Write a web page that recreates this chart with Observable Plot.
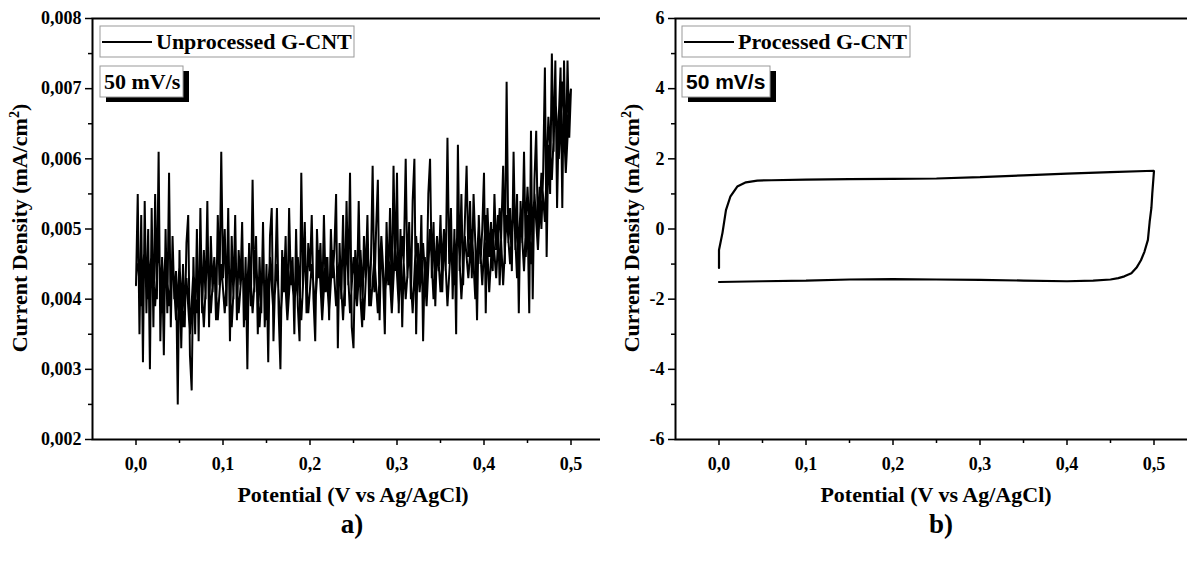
<!DOCTYPE html>
<html><head><meta charset="utf-8">
<script src="https://cdn.jsdelivr.net/npm/d3@7"></script>
<script src="https://cdn.jsdelivr.net/npm/@observablehq/plot@0.6"></script>
<style>
html,body{margin:0;padding:0;background:#fff;overflow:hidden;width:1187px;height:564px;}
#wrap{position:relative;width:1187px;height:564px;overflow:hidden;}
.panel{position:absolute;top:0;}
</style></head><body><div id="wrap"></div>
<script>
// ---- data: panel a) Unprocessed G-CNT, forward scan (potential V, current density mA/cm2)
const potentialA = [
0.000,0.002,0.004,0.006,0.008, 0.010,0.012,0.014,0.016,0.018,
0.020,0.022,0.024,0.026,0.028, 0.030,0.032,0.034,0.036,0.038,
0.040,0.042,0.044,0.046,0.048, 0.050,0.052,0.054,0.056,0.058,
0.060,0.062,0.064,0.066,0.068, 0.070,0.072,0.074,0.076,0.078,
0.080,0.082,0.084,0.086,0.088, 0.090,0.092,0.094,0.096,0.098,
0.100,0.102,0.104,0.106,0.108, 0.110,0.112,0.114,0.116,0.118,
0.120,0.122,0.124,0.126,0.128, 0.130,0.132,0.134,0.136,0.138,
0.140,0.142,0.144,0.146,0.148, 0.150,0.152,0.154,0.156,0.158,
0.160,0.162,0.164,0.166,0.168, 0.170,0.172,0.174,0.176,0.178,
0.180,0.182,0.184,0.186,0.188, 0.190,0.192,0.194,0.196,0.198,
0.200,0.202,0.204,0.206,0.208, 0.210,0.212,0.214,0.216,0.218,
0.220,0.222,0.224,0.226,0.228, 0.230,0.232,0.234,0.236,0.238,
0.240,0.242,0.244,0.246,0.248, 0.250,0.252,0.254,0.256,0.258,
0.260,0.262,0.264,0.266,0.268, 0.270,0.272,0.274,0.276,0.278,
0.280,0.282,0.284,0.286,0.288, 0.290,0.292,0.294,0.296,0.298,
0.300,0.302,0.304,0.306,0.308, 0.310,0.312,0.314,0.316,0.318,
0.320,0.322,0.324,0.326,0.328, 0.330,0.332,0.334,0.336,0.338,
0.340,0.342,0.344,0.346,0.348, 0.350,0.352,0.354,0.356,0.358,
0.360,0.362,0.364,0.366,0.368, 0.370,0.372,0.374,0.376,0.378,
0.380,0.382,0.384,0.386,0.388, 0.390,0.392,0.394,0.396,0.398,
0.400,0.402,0.404,0.406,0.408, 0.410,0.412,0.414,0.416,0.418,
0.420,0.422,0.424,0.426,0.428, 0.430,0.432,0.434,0.436,0.438,
0.440,0.442,0.444,0.446,0.448, 0.450,0.452,0.454,0.456,0.458,
0.460,0.462,0.464,0.466,0.468, 0.470,0.472,0.474,0.476,0.478,
0.480,0.482,0.484,0.486,0.488, 0.490,0.492,0.494,0.496,0.498,
0.500];
const currentA = [
0.0042,0.0055,0.0035,0.0052,0.0031, 0.0054,0.0038,0.0050,0.0030,0.0053,
0.0036,0.0055,0.0040,0.0061,0.0034, 0.0046,0.0032,0.0050,0.0038,0.0058,
0.0036,0.0049,0.0040,0.0044,0.0025, 0.0047,0.0033,0.0045,0.0036,0.0048,
0.0052,0.0032,0.0027,0.0046,0.0035, 0.0050,0.0034,0.0053,0.0038,0.0047,
0.0040,0.0054,0.0036,0.0049,0.0041, 0.0046,0.0037,0.0052,0.0042,0.0061,
0.0043,0.0050,0.0039,0.0053,0.0034, 0.0049,0.0040,0.0052,0.0037,0.0047,
0.0042,0.0051,0.0036,0.0046,0.0030, 0.0048,0.0039,0.0057,0.0041,0.0049,
0.0035,0.0046,0.0038,0.0051,0.0036, 0.0045,0.0031,0.0049,0.0053,0.0034,
0.0043,0.0053,0.0038,0.0030,0.0047, 0.0041,0.0049,0.0037,0.0053,0.0042,
0.0046,0.0035,0.0050,0.0039,0.0034, 0.0058,0.0042,0.0051,0.0038,0.0048,
0.0044,0.0052,0.0040,0.0034,0.0050, 0.0043,0.0048,0.0039,0.0052,0.0041,
0.0046,0.0037,0.0050,0.0043,0.0047, 0.0055,0.0033,0.0048,0.0040,0.0052,
0.0039,0.0054,0.0042,0.0058,0.0036, 0.0033,0.0047,0.0041,0.0054,0.0040,
0.0036,0.0049,0.0043,0.0052,0.0039, 0.0045,0.0059,0.0041,0.0050,0.0057,
0.0037,0.0049,0.0043,0.0035,0.0051, 0.0042,0.0053,0.0040,0.0059,0.0044,
0.0058,0.0038,0.0050,0.0036,0.0047, 0.0060,0.0043,0.0051,0.0040,0.0054,
0.0060,0.0035,0.0048,0.0042,0.0052, 0.0034,0.0046,0.0041,0.0055,0.0060,
0.0043,0.0051,0.0039,0.0048,0.0044, 0.0052,0.0041,0.0049,0.0044,0.0063,
0.0045,0.0053,0.0040,0.0050,0.0035, 0.0062,0.0044,0.0055,0.0042,0.0051,
0.0059,0.0046,0.0054,0.0043,0.0055, 0.0048,0.0037,0.0052,0.0045,0.0050,
0.0058,0.0038,0.0053,0.0046,0.0051, 0.0044,0.0055,0.0047,0.0052,0.0042,
0.0050,0.0059,0.0045,0.0071,0.0048, 0.0053,0.0044,0.0061,0.0047,0.0055,
0.0038,0.0054,0.0048,0.0061,0.0046, 0.0052,0.0038,0.0064,0.0040,0.0057,
0.0064,0.0049,0.0056,0.0050,0.0058, 0.0073,0.0046,0.0062,0.0055,0.0075,
0.0061,0.0074,0.0053,0.0066,0.0073, 0.0053,0.0074,0.0059,0.0074,0.0063,
0.0070];
// ---- panel a) reverse scan (fills the dense core of the trace)
const potentialAr = [
0.498,0.494,0.490,0.486,0.482, 0.478,0.474,0.470,0.466,0.462,
0.458,0.454,0.450,0.446,0.442, 0.438,0.434,0.430,0.426,0.422,
0.418,0.414,0.410,0.406,0.402, 0.398,0.394,0.390,0.386,0.382,
0.378,0.374,0.370,0.366,0.362, 0.358,0.354,0.350,0.346,0.342,
0.338,0.334,0.330,0.326,0.322, 0.318,0.314,0.310,0.306,0.302,
0.298,0.294,0.290,0.286,0.282, 0.278,0.274,0.270,0.266,0.262,
0.258,0.254,0.250,0.246,0.242, 0.238,0.234,0.230,0.226,0.222,
0.218,0.214,0.210,0.206,0.202, 0.198,0.194,0.190,0.186,0.182,
0.178,0.174,0.170,0.166,0.162, 0.158,0.154,0.150,0.146,0.142,
0.138,0.134,0.130,0.126,0.122, 0.118,0.114,0.110,0.106,0.102,
0.098,0.094,0.090,0.086,0.082, 0.078,0.074,0.070,0.066,0.062,
0.058,0.054,0.050,0.046,0.042, 0.038,0.034,0.030,0.026,0.022,
0.018,0.014,0.010,0.006,0.002];
const currentAr = [
0.0068,0.0058,0.0071,0.0060,0.0069, 0.0057,0.0066,0.0051,0.0058,0.0047,
0.0055,0.0045,0.0056,0.0044,0.0053, 0.0043,0.0054,0.0045,0.0052,0.0042,
0.0053,0.0043,0.0050,0.0041,0.0052, 0.0042,0.0051,0.0040,0.0050,0.0043,
0.0049,0.0040,0.0051,0.0042,0.0048, 0.0039,0.0050,0.0041,0.0049,0.0040,
0.0050,0.0039,0.0048,0.0041,0.0049, 0.0038,0.0047,0.0040,0.0049,0.0039,
0.0048,0.0038,0.0047,0.0040,0.0049, 0.0038,0.0046,0.0039,0.0048,0.0037,
0.0047,0.0039,0.0046,0.0038,0.0048, 0.0037,0.0046,0.0039,0.0047,0.0038,
0.0046,0.0037,0.0047,0.0039,0.0045, 0.0038,0.0047,0.0037,0.0046,0.0039,
0.0045,0.0037,0.0046,0.0036,0.0045, 0.0038,0.0046,0.0037,0.0045,0.0036,
0.0046,0.0038,0.0047,0.0037,0.0045, 0.0038,0.0046,0.0036,0.0047,0.0038,
0.0045,0.0037,0.0046,0.0038,0.0047, 0.0036,0.0045,0.0038,0.0044,0.0035,
0.0043,0.0036,0.0045,0.0037,0.0046, 0.0039,0.0047,0.0038,0.0048,0.0039,
0.0047,0.0040,0.0048,0.0039,0.0045];

// ---- data: panel b) Processed G-CNT (cyclic voltammogram, in scan order)
const potentialB = [0.000,0.000,0.004,0.008,0.013,0.021,0.031,0.044,0.060,0.100,0.150,0.200,0.250,0.300,0.350,0.400,0.450,0.500,
  0.498,0.497,0.495,0.493,0.489,0.485,0.480,0.474,0.466,0.459,0.450,0.430,0.400,0.350,0.300,0.250,0.200,0.150,0.100,0.050,0.000];
const currentB = [-1.11,-0.60,-0.11,0.54,0.92,1.21,1.33,1.38,1.39,1.41,1.42,1.43,1.44,1.48,1.53,1.58,1.62,1.66,
  1.00,0.60,0.20,-0.31,-0.65,-0.89,-1.10,-1.26,-1.35,-1.40,-1.44,-1.47,-1.49,-1.47,-1.45,-1.44,-1.43,-1.44,-1.47,-1.49,-1.51];

// ---- ticks
const xMajor = [0, 0.1, 0.2, 0.3, 0.4, 0.5];
const xMinor = [0.05, 0.15, 0.25, 0.35, 0.45];
const yMajorA = [0.002, 0.003, 0.004, 0.005, 0.006, 0.007, 0.008];
const yMinorA = [0.0025, 0.0035, 0.0045, 0.0055, 0.0065, 0.0075];
const yMajorB = [-6, -4, -2, 0, 2, 4, 6];
const yMinorB = [-5, -3, -1, 1, 3, 5];

const serif = "'Liberation Serif','Times New Roman',serif";
const sans = "'Liberation Sans',Arial,sans-serif";
const comma = s => s.replace(".", ",");

function makePanel(o) {
  const data = o.xs.map((x, i) => ({potential: x, current: o.ys[i]}));
  return Plot.plot({
    width: 620, height: 564,
    marginLeft: o.marginLeft, marginRight: o.marginRight, marginTop: 18, marginBottom: 125,
    style: {fontFamily: serif, fontWeight: "bold", fontSize: "18px", background: "white", color: "black", overflow: "visible"},
    x: {domain: [-0.05, 0.55], label: null},
    y: {domain: o.yDomain, label: null},
    marks: [
      Plot.line(data, {x: "potential", y: "current", stroke: "black", strokeWidth: o.strokeWidth, strokeLinejoin: "miter"}),
      Plot.axisX({ticks: xMajor, tickSize: 6, tickPadding: 12, tickFormat: d => comma(d.toFixed(1)), label: null, strokeWidth: 1.5}),
      Plot.axisX({ticks: xMinor, tickSize: 4, tickFormat: () => "", label: null, strokeWidth: 1.5}),
      Plot.axisY({ticks: o.yMajor, tickSize: 7, tickPadding: 4, tickFormat: o.yFmt, label: null, strokeWidth: 1.5}),
      Plot.axisY({ticks: o.yMinor, tickSize: 4, tickFormat: () => "", label: null, strokeWidth: 1.5}),
      Plot.frame({stroke: "black", strokeWidth: 2})
    ]
  });
}

function decorate(svgNode, d) {
  const svg = d3.select(svgNode);
  const g = svg.append("g").attr("text-anchor", "start");
  g.append("rect").attr("x", d.lx).attr("y", 26).attr("width", d.lw).attr("height", 31)
    .attr("fill", "white").attr("stroke", "#999").attr("stroke-width", 1);
  g.append("line").attr("x1", d.lx + 2).attr("x2", d.lx + 52).attr("y1", 42).attr("y2", 42)
    .attr("stroke", "black").attr("stroke-width", 2);
  g.append("text").attr("x", d.lx + 56).attr("y", 49).attr("text-anchor", "start").text(d.legend)
    .attr("font-family", serif).attr("font-weight", "bold").attr("font-size", 22);
  g.append("rect").attr("x", d.lx + 6).attr("y", 71).attr("width", d.sw).attr("height", 31).attr("fill", "black");
  g.append("rect").attr("x", d.lx).attr("y", 66).attr("width", d.sw).attr("height", 31)
    .attr("fill", "white").attr("stroke", "#999").attr("stroke-width", 1);
  g.append("text").attr("x", d.lx + 4).attr("y", 89).attr("text-anchor", "start").text("50 mV/s")
    .attr("font-family", d.rateFont).attr("font-weight", "bold").attr("font-size", d.rateSize);
  g.append("text").attr("x", d.cx).attr("y", 502).attr("text-anchor", "middle")
    .attr("font-family", serif).attr("font-weight", "bold").attr("font-size", 22)
    .text("Potential (V vs Ag/AgCl)");
  const yt = g.append("text").attr("transform", `translate(${d.ty},228) rotate(-90)`).attr("text-anchor", "middle")
    .attr("font-family", serif).attr("font-weight", "bold").attr("font-size", 22);
  yt.append("tspan").text("Current Density (mA/cm");
  yt.append("tspan").attr("font-size", 14).attr("dy", -8).text("2");
  yt.append("tspan").attr("dy", 8).text(")");
  g.append("text").attr("x", d.tagX).attr("y", 533).attr("text-anchor", "middle")
    .attr("font-family", serif).attr("font-weight", "bold").attr("font-size", 27).text(d.tag);
}

const wrap = document.getElementById("wrap");

const pa = makePanel({xs: potentialA.concat(potentialAr), ys: currentA.concat(currentAr), yDomain: [0.002, 0.008],
  yMajor: yMajorA, yMinor: yMinorA, yFmt: d => comma(d.toFixed(3)), marginLeft: 92, marginRight: 6, strokeWidth: 2});
pa.classList.add("panel"); pa.style.left = "0px";
wrap.appendChild(pa);
decorate(pa, {lx: 100, lw: 254, sw: 83, legend: "Unprocessed G-CNT", rateFont: serif, rateSize: 22,
  cx: 353, ty: 27, tagX: 352, tag: "a)"});

const pb = makePanel({xs: potentialB, ys: currentB, yDomain: [-6, 6], yMajor: yMajorB, yMinor: yMinorB,
  yFmt: d => String(d).replace("\u2212", "-"), marginLeft: 75, marginRight: 23, strokeWidth: 2.2});
pb.classList.add("panel"); pb.style.left = "600px";
wrap.appendChild(pb);
decorate(pb, {lx: 82, lw: 228, sw: 88, legend: "Processed G-CNT", rateFont: sans, rateSize: 21,
  cx: 336, ty: 39, tagX: 341, tag: "b)"});
</script></body></html>
